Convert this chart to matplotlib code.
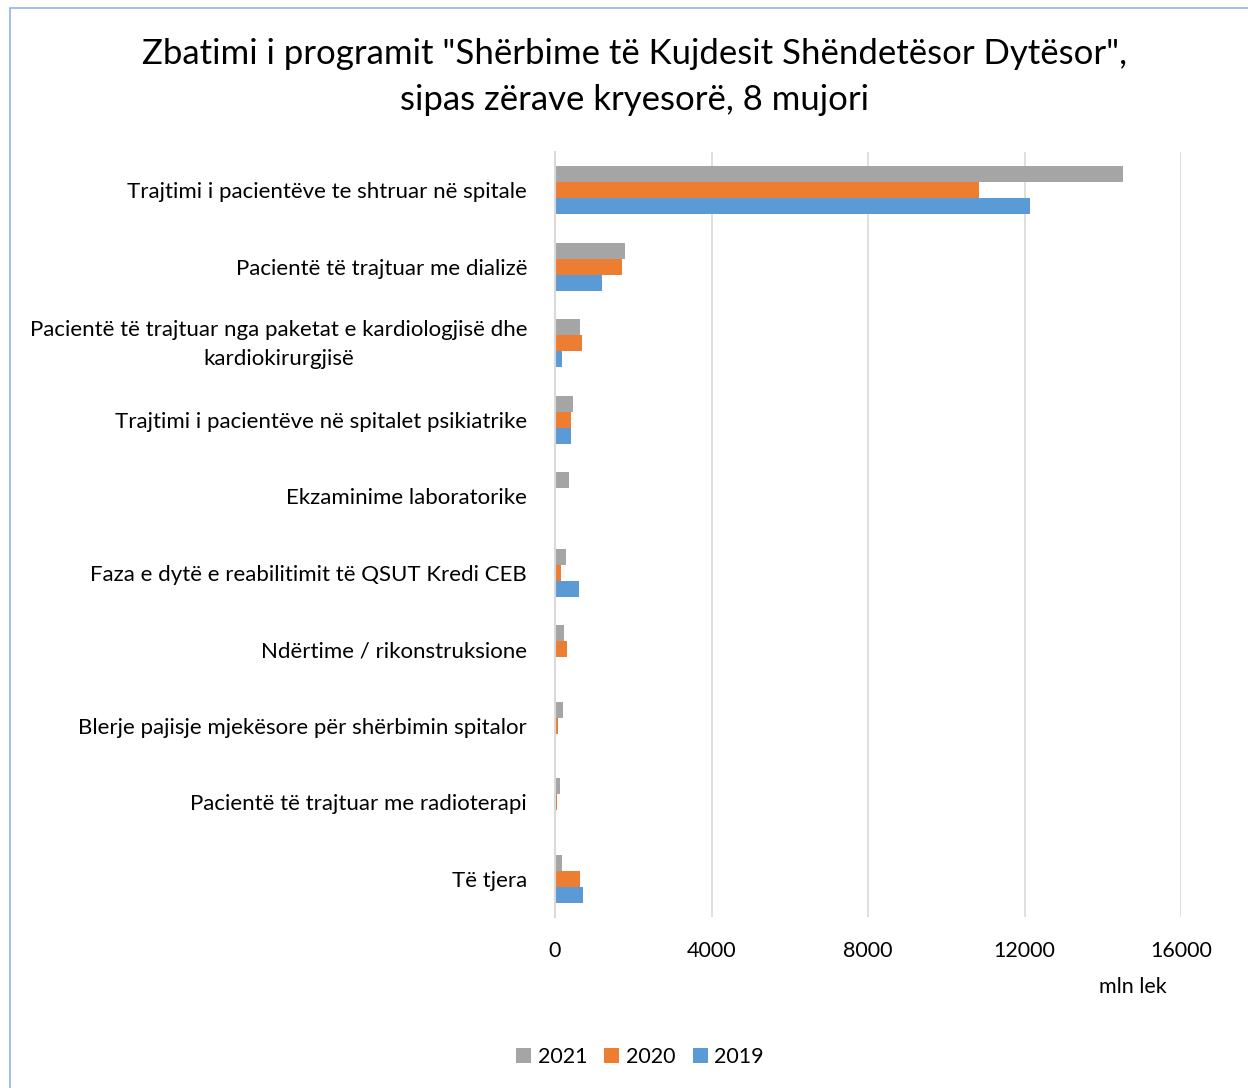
import matplotlib
matplotlib.use("Agg")
import matplotlib.pyplot as plt
import matplotlib.transforms as mtransforms
import numpy as np
from matplotlib.patches import Rectangle

plt.rcParams['font.family'] = ['Lato', 'DejaVu Sans']

categories = [
    "Trajtimi i pacientëve te shtruar në spitale",
    "Pacientë të trajtuar me dializë",
    "Pacientë të trajtuar nga paketat e kardiologjisë dhe\nkardiokirurgjisë",
    "Trajtimi i pacientëve në spitalet psikiatrike",
    "Ekzaminime laboratorike",
    "Faza e dytë e reabilitimit të QSUT Kredi CEB",
    "Ndërtime / rikonstruksione",
    "Blerje pajisje mjekësore për shërbimin spitalor",
    "Pacientë të trajtuar me radioterapi",
    "Të tjera",
]
v2021 = [14530, 1790, 640, 470, 360, 270, 240, 210, 120, 170]
v2020 = [10840, 1710, 690, 410, 0, 160, 310, 80, 60, 630]
v2019 = [12150, 1200, 190, 420, 0, 610, 0, 30, 0, 710]
series_names = ["2021", "2020", "2019"]
colors = ["#A5A5A5", "#ED7D31", "#5B9BD5"]
xticks = [0, 4000, 8000, 12000, 16000]

W, H = 1248, 1088
fig = plt.figure(figsize=(W/100, H/100), dpi=100)
fig.patch.set_facecolor("white")

# chart border (partially visible)
fig.patches.append(Rectangle((10/W, -0.1), 1.2, 1 - 8/H + 0.1, transform=fig.transFigure,
                             fill=False, edgecolor="#8EB4E3", linewidth=1.2))

ax = fig.add_axes([555/W, 1 - 917/H, (1181-555)/W, (917-152)/H])
y = np.arange(len(categories))
bh = 0.21
for i, (vals, c, name) in enumerate(zip([v2021, v2020, v2019], colors, series_names)):
    ax.barh(y + (i - 1) * bh, vals, height=bh, color=c, label=name, zorder=3)

ax.set_ylim(len(categories) - 0.5, -0.5)
ax.set_xlim(0, 16000)
ax.set_xticks(xticks)
ax.set_xticklabels([str(t) for t in xticks], fontsize=15.5)
ax.set_yticks(y)
ax.set_yticklabels(categories, fontsize=16, multialignment='center', linespacing=1.55)
ax.tick_params(axis='both', length=0)
ax.tick_params(axis='y', pad=20)
ax.tick_params(axis='x', pad=17)
for lab in ax.get_yticklabels():
    if "\n" in lab.get_text():
        lab.set_transform(lab.get_transform() +
                          mtransforms.ScaledTranslation(0, 5/100, fig.dpi_scale_trans))
for s in ["top", "right", "bottom"]:
    ax.spines[s].set_visible(False)
ax.spines["left"].set_color("#D9D9D9")
ax.spines["left"].set_linewidth(1.5)
ax.spines["left"].set_zorder(4)
ax.xaxis.grid(True, color="#D9D9D9", linewidth=1.2, zorder=0)
ax.set_axisbelow(True)

fig.text(635/W, 1 - 54/H, "Zbatimi i programit \"Shërbime të Kujdesit Shëndetësor Dytësor\",",
         ha='center', va='center', fontsize=25)
fig.text(635/W, 1 - 100/H, "sipas zërave kryesorë, 8 mujori", ha='center', va='center', fontsize=25)
fig.text(1133/W, 1 - 987/H, "mln lek", ha='center', va='center', fontsize=15.5)

handles, labels = ax.get_legend_handles_labels()
fig.legend(handles, labels, loc='center', bbox_to_anchor=(640/W, 1 - 1057/H), ncol=3,
           frameon=False, fontsize=15.5, handlelength=0.7, handleheight=0.7,
           columnspacing=0.8, handletextpad=0.3)

fig.savefig("out.png", dpi=100, facecolor="white")
